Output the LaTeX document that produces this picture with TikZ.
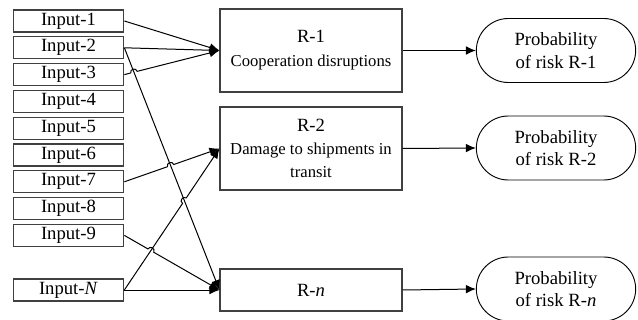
\documentclass[tikz,border=0pt]{standalone}
\usepackage{fontspec}
\setmainfont{Liberation Serif}
\usetikzlibrary{arrows.meta,shapes.misc,calc,intersections}
\newcommand{\subsz}{\fontsize{12.5}{17}\selectfont}
\tikzset{
  inbox/.style={draw=black!75, line width=0.8pt, minimum width=83pt, minimum height=16.5pt, inner sep=0pt},
  riskbox/.style={draw=black!75, line width=0.8pt, minimum width=136.5pt, minimum height=62.25pt, align=center, inner sep=1pt},
  probbox/.style={draw=black, line width=0.7pt, rounded rectangle, minimum width=121.5pt, minimum height=48pt, align=center, inner sep=1pt},
  arr/.style={-{Latex[length=7.5pt,width=6.5pt]}, line width=0.75pt},
  hop/.style={bend left=90, looseness=1.6}
}
\begin{document}
\begin{tikzpicture}[x=0.75pt, y=-0.75pt, font=\fontsize{14}{17}\selectfont]
\useasboundingbox (0,0) rectangle (638,320);
% inputs
\foreach \i in {1,...,9}
  \node[inbox] (in\i) at (68.5,{21+26.8*(\i-1)}) {Input-\i};
\node[inbox] (inN) at (68.5,290) {Input-\textit{N}};
% risks
\node[riskbox] (r1) at (311,50.5) {R-1\\[1pt]{\subsz Cooperation disruptions}};
\node[riskbox] (r2) at (311,148.5) {R-2\\{\subsz Damage to shipments in}\\{\subsz transit}};
\node[riskbox, minimum height=31.5pt] (rn) at (311,290) {R-\textit{n}};
% probabilities
\node[probbox] (p1) at (556,50.5) {Probability\\of risk R-1};
\node[probbox] (p2) at (556,148) {Probability\\of risk R-2};
\node[probbox] (pn) at (556,289) {Probability\\of risk R-\textit{n}};
% crossings
\path[name path=l2n] (in2.east) -- (rn.west);
\path[name path=l31] (in3.east) -- (r1.west);
\path[name path=l72] (in7.east) -- (r2.west);
\path[name path=lN2] (inN.east) -- (r2.west);
\path[name path=l9n] (in9.east) -- (rn.west);
\path[name intersections={of=l31 and l2n, by=h1}];
\path[name intersections={of=l72 and l2n, by=h2}];
\path[name intersections={of=lN2 and l2n, by=h3}];
\path[name intersections={of=l9n and lN2, by=h4}];
% connectors
\draw[arr] (in1.east) -- (r1.west);
\draw[arr] (in2.east) -- (r1.west);
\draw[arr] (in3.east) -- ($(h1)!2.5pt!(in3.east)$) to[hop] ($(h1)!2.5pt!(r1.west)$) -- (r1.west);
\draw[arr] (in2.east) -- (rn.west);
\draw[arr] (in7.east) -- ($(h2)!2.5pt!(in7.east)$) to[hop] ($(h2)!2.5pt!(r2.west)$) -- (r2.west);
\draw[arr] (inN.east) -- ($(h3)!2.5pt!(inN.east)$) to[hop] ($(h3)!2.5pt!(r2.west)$) -- (r2.west);
\draw[arr] (in9.east) -- ($(h4)!2.5pt!(in9.east)$) to[hop] ($(h4)!2.5pt!(rn.west)$) -- (rn.west);
\draw[arr] (inN.east) -- (rn.west);
\draw[arr] (r1.east) -- (p1.west);
\draw[arr] (r2.east) -- (p2.west);
\draw[arr] (rn.east) -- (pn.west);
\end{tikzpicture}
\end{document}
